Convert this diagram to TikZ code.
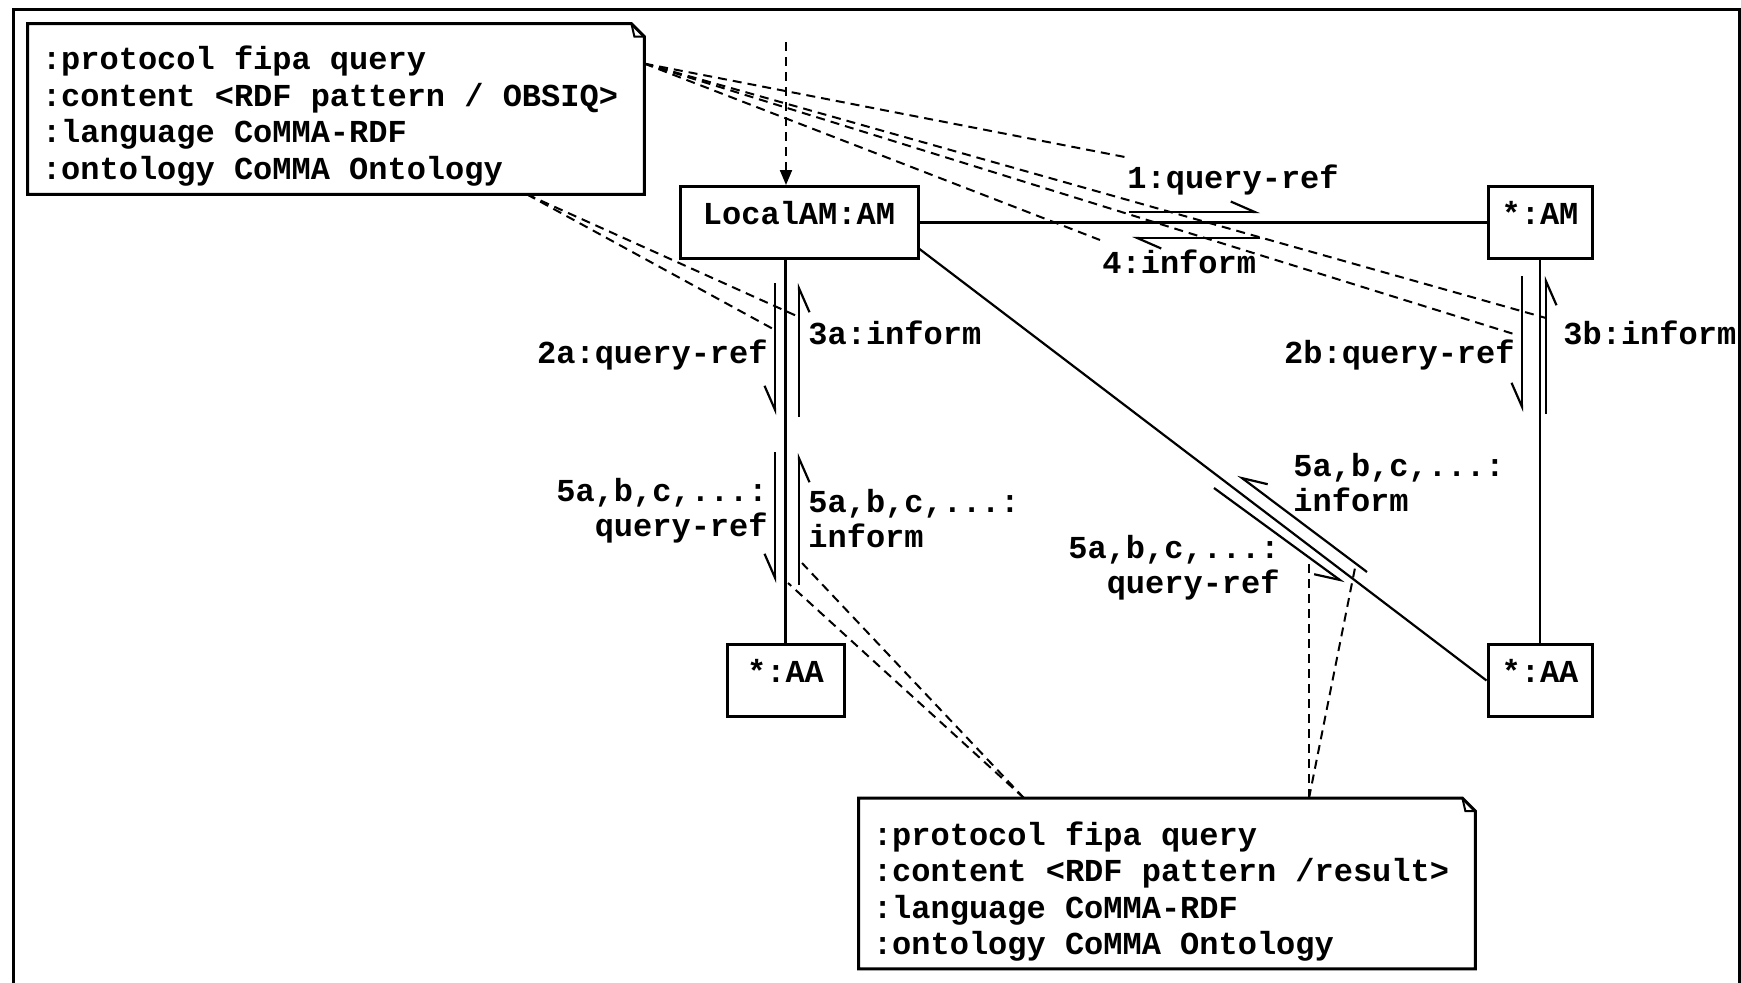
\documentclass[tikz,border=0pt]{standalone}
\usepackage{fontspec}
\newfontfamily\umlfont{Liberation Mono}
\usetikzlibrary{positioning, arrows.meta, calc}

\begin{document}
\begin{tikzpicture}[
  x=0.5pt, y=-0.5pt,
  node distance=191.5pt and 283.5pt,
  obj/.style={rectangle, draw, line width=1.5pt, font=\umlfont\bfseries\fontsize{16}{18}\selectfont, minimum height=36pt, inner sep=0pt, text height=7pt, text depth=5pt},
  note/.style={align=left, text width=294pt, inner xsep=7pt, minimum height=85pt, font=\umlfont\bfseries\fontsize{16}{18.25}\selectfont,
    execute at begin node={\spaceskip=0pt\xspaceskip=0pt\rule{0pt}{19pt}}},
  lbl/.style={inner sep=0pt, font=\umlfont\bfseries\fontsize{16}{17.5}\selectfont},
  link/.style={line width=1.1pt},
  msg/.style={line width=1.1pt, -{Straight Barb[right, length=12pt, width=10.5pt]}},
  msgl/.style={line width=1.1pt, -{Straight Barb[left, length=12pt, width=10.5pt]}},
  anno/.style={line width=1pt, dash pattern=on 4.5pt off 3pt}
]
\useasboundingbox (0,0) rectangle (1741,982);
\clip (0,0) rectangle (1741,982);
\draw[line width=1.5pt] (13,1000) -- (13,9) -- (1739,9) -- (1739,1000);

% agents
\node[obj, minimum width=119pt] (lam) at (799,222.5) {LocalAM:AM};
\node[obj, minimum width=52pt, right=of lam] (ram) {*:AM};
\node[obj, minimum width=58.5pt] (laa) at (785.5,680) {*:AA};
\node[obj, minimum width=52pt, below=of ram] (raa) {*:AA};

\draw[link] (lam) -- (ram);
\draw[link] (laa.north) -- (laa.north |- lam.south);
\draw[link] (ram) -- (raa);
\draw[link] ([yshift=5.5pt]lam.south east) -- (raa.west);

% incoming request
\coordinate (src) at (786,42);
\draw[anno, -{Triangle[length=7.5pt, width=6pt]}] (src) -- (src |- lam.north);

% notes
\node[note] (n1) at (336,109) {:protocol fipa query\\:content <RDF pattern / OBSIQ>\\:language CoMMA-RDF\\:ontology CoMMA Ontology};
\draw[line width=1.5pt] (n1.north west) -- ([xshift=-6.5pt]n1.north east) -- ([yshift=-6.5pt]n1.north east) -- (n1.south east) -- (n1.south west) -- cycle;
\draw[line width=1pt] ([xshift=-6.5pt]n1.north east) -- ([xshift=-5pt, yshift=-6.5pt]n1.north east) -- ([yshift=-6.5pt]n1.north east);

\node[note, execute at begin node={\rule{0pt}{20pt}}] (n2) at (1167,883.5) {:protocol fipa query\\:content <RDF pattern /result>\\:language CoMMA-RDF\\:ontology CoMMA Ontology};
\draw[line width=1.5pt] (n2.north west) -- ([xshift=-6.5pt]n2.north east) -- ([yshift=-6.5pt]n2.north east) -- (n2.south east) -- (n2.south west) -- cycle;
\draw[line width=1pt] ([xshift=-6.5pt]n2.north east) -- ([xshift=-5pt, yshift=-6.5pt]n2.north east) -- ([yshift=-6.5pt]n2.north east);

% messages
\coordinate (q1s) at (1129,212);  \coordinate (q1e) at (1260,212);
\coordinate (i4s) at (1260,238);  \coordinate (i4e) at (1132,238);
\coordinate (q2as) at (775,283);  \coordinate (q2ae) at (775,415);
\coordinate (i3as) at (799,417);  \coordinate (i3ae) at (799,283);
\coordinate (q5as) at (775,452);  \coordinate (q5ae) at (775,583);
\coordinate (i5as) at (799,585);  \coordinate (i5ae) at (799,453);
\coordinate (q2bs) at (1522,276); \coordinate (q2be) at (1522,412);
\coordinate (i3bs) at (1546,414); \coordinate (i3be) at (1546,276);
\coordinate (i5ds) at (1367,572); \coordinate (i5de) at (1238,475);
\coordinate (q5ds) at (1214,488); \coordinate (q5de) at (1344,583);
\draw[msgl] (q1s) -- (q1e);
\draw[msgl] (i4s) -- (i4e);
\draw[msg] (q2as) -- (q2ae);
\draw[msg] (i3as) -- (i3ae);
\draw[msg] (q5as) -- (q5ae);
\draw[msg] (i5as) -- (i5ae);
\draw[msg] (q2bs) -- (q2be);
\draw[msg] (i3bs) -- (i3be);
\draw[msg] (i5ds) -- (i5de);
\draw[msg] (q5ds) -- (q5de);

\node[lbl, anchor=base west] (l1) at (1127,188) {1:query-ref};
\node[lbl, anchor=base west] (l4) at (1102,273) {4:inform};
\node[lbl, anchor=base east] (l2a) at (768,363) {2a:query-ref};
\node[lbl, anchor=base west] (l3a) at (808,344) {3a:inform};
\node[lbl, anchor=base east] (l2b) at (1515,363) {2b:query-ref};
\node[lbl, anchor=base west] (l3b) at (1563,344) {3b:inform};
\node[lbl, anchor=base east, align=right] (l5aq) at (768,536) {5a,b,c,...:\\query-ref};
\node[lbl, anchor=base west, align=left] (l5ai) at (808,547) {5a,b,c,...:\\inform};
\node[lbl, anchor=base west, align=left] (l5di) at (1293,511) {5a,b,c,...:\\inform};
\node[lbl, anchor=base east, align=right] (l5dq) at (1280,593) {5a,b,c,...:\\query-ref};

% note anchors
\coordinate (n1r) at ([yshift=-20pt]n1.north east);
\coordinate (n1b) at ([xshift=95.5pt]n1.south);
\coordinate (n2l) at ([xshift=-71.5pt]n2.north);
\coordinate (n2r) at ([xshift=71pt]n2.north);
\coordinate (t1) at (1130,158);
\coordinate (t4) at (1100,240);
\coordinate (t3b) at (1546,318);
\coordinate (t2b) at (1517,335);
\coordinate (t3a) at (799,317);
\coordinate (t2a) at (775,330);
\coordinate (t5ai) at (802,563);
\coordinate (t5aq) at (788,583);
\coordinate (t5dq) at (1309,557);
\coordinate (t5di) at (1356,563);
\draw[anno] (n1r) -- (t1);
\draw[anno] (n1r) -- (t4);
\draw[anno] (n1r) -- (t3b);
\draw[anno] (n1r) -- (t2b);
\draw[anno] (n1b) -- (t3a);
\draw[anno] (n1b) -- (t2a);
\draw[anno] (n2l) -- (t5ai);
\draw[anno] (n2l) -- (t5aq);
\draw[anno] (n2r) -- (t5dq);
\draw[anno] (n2r) -- (t5di);
\end{tikzpicture}
\end{document}
